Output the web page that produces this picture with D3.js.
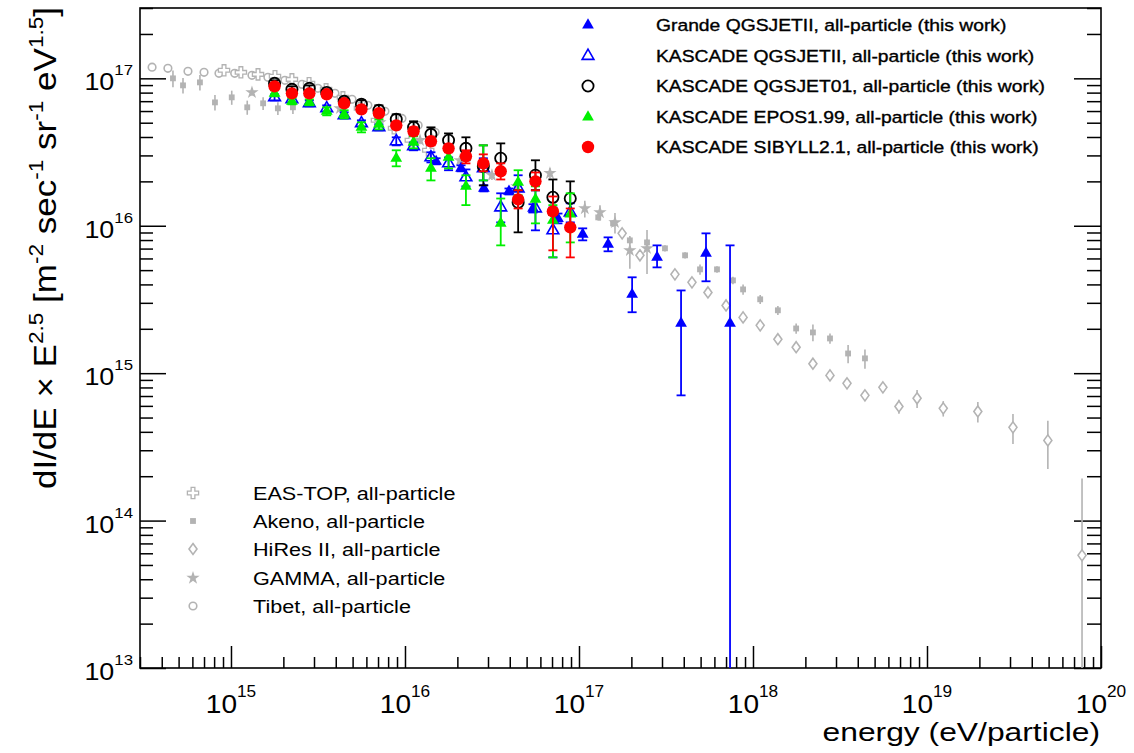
<!DOCTYPE html>
<html><head><meta charset="utf-8">
<script src="https://cdn.jsdelivr.net/npm/d3@7"></script>
<style>body{margin:0;background:#fff}svg{display:block}text{font-family:"Liberation Sans",Arial,sans-serif;white-space:pre}</style>
</head><body>
<svg id="c" width="1134" height="753"></svg>
<script>
// ---------- DATA ----------
const xTickExps = [15, 16, 17, 18, 19, 20];
const yTickExps = [13, 14, 15, 16, 17];

// KASCADE energy bins (eV)
const kascadeE = [1.78e15, 2.24e15, 2.82e15, 3.55e15, 4.47e15, 5.62e15, 7.08e15, 8.91e15, 1.12e16, 1.41e16, 1.78e16, 2.24e16, 2.82e16, 3.55e16, 4.47e16, 5.62e16, 7.08e16, 8.91e16];
// KASCADE SIBYLL2.1
const sibyllF  = [8.82e16, 7.91e16, 7.91e16, 7.79e16, 6.77e16, 6.16e16, 5.79e16, 4.80e16, 4.37e16, 3.74e16, 3.35e16, 2.96e16, 2.65e16, 2.34e16, 1.51e16, 2.00e16, 1.25e16, 9.75e15];
const sibyllLo = [8.42e16, 7.55e16, 7.55e16, 7.43e16, 6.46e16, 5.88e16, 5.52e16, 4.58e16, 4.11e16, 3.51e16, 3.15e16, 2.65e16, 2.34e16, 2.06e16, 1.31e16, 1.74e16, 6.81e15, 6.10e15];
const sibyllHi = [9.25e16, 8.29e16, 8.29e16, 8.16e16, 7.09e16, 6.46e16, 6.07e16, 5.03e16, 4.65e16, 3.98e16, 3.56e16, 3.25e16, 3.05e16, 2.65e16, 1.74e16, 2.30e16, 1.58e16, 1.31e16];
// KASCADE QGSJET01
const qgs01F  = [9.25e16, 8.42e16, 8.55e16, 8.03e16, 6.98e16, 6.66e16, 6.07e16, 5.27e16, 4.65e16, 4.17e16, 3.80e16, 3.35e16, 2.53e16, 2.87e16, 1.44e16, 2.20e16, 1.56e16, 1.53e16];
const qgs01Lo = [8.82e16, 8.03e16, 8.16e16, 7.67e16, 6.66e16, 6.26e16, 5.61e16, 4.87e16, 4.23e16, 3.74e16, 3.35e16, 2.78e16, 1.88e16, 2.38e16, 9.02e15, 1.74e16, 1.18e16, 1.18e16];
const qgs01Hi = [9.69e16, 8.82e16, 8.96e16, 8.42e16, 7.32e16, 7.09e16, 6.56e16, 5.70e16, 5.11e16, 4.65e16, 4.23e16, 3.98e16, 3.51e16, 3.62e16, 1.74e16, 2.78e16, 2.06e16, 2.00e16];
// KASCADE QGSJETII
const qgs2F  = [7.43e16, 7.20e16, 6.77e16, 6.26e16, 5.61e16, 4.95e16, 4.65e16, 3.74e16, 3.46e16, 2.91e16, 2.65e16, 2.13e16, 2.45e16, 1.33e16, 1.79e16, 1.31e16, 9.31e15, 1.23e16];
const qgs2Lo = [7.09e16, 6.87e16, 6.46e16, 5.97e16, 5.35e16, 4.72e16, 4.44e16, 3.51e16, 3.25e16, 2.69e16, 2.38e16, 1.85e16, 2.03e16, 1.054e16, 1.49e16, 9.31e15, 6.10e15, 1.054e16];
const qgs2Hi = [7.79e16, 7.55e16, 7.09e16, 6.56e16, 5.88e16, 5.19e16, 4.87e16, 3.98e16, 3.68e16, 3.15e16, 2.91e16, 2.41e16, 2.87e16, 1.66e16, 2.20e16, 1.74e16, 1.33e16, 1.42e16];
// KASCADE EPOS1.99
const eposF  = [7.91e16, 6.98e16, 6.87e16, 5.97e16, 5.70e16, 4.65e16, 4.87e16, 2.87e16, 3.68e16, 2.45e16, 2.91e16, 1.85e16, 2.65e16, 1.038e16, 1.97e16, 1.51e16, 1.088e16, 1.20e16];
const eposLo = [7.55e16, 6.66e16, 6.56e16, 5.61e16, 5.35e16, 4.30e16, 4.51e16, 2.53e16, 3.35e16, 2.03e16, 2.45e16, 1.38e16, 2.03e16, 7.36e15, 1.61e16, 1.038e16, 6.10e15, 7.71e15];
const eposHi = [8.29e16, 7.32e16, 7.20e16, 6.36e16, 6.07e16, 5.03e16, 5.27e16, 3.25e16, 4.04e16, 2.87e16, 3.46e16, 2.20e16, 3.51e16, 1.53e16, 2.38e16, 1.85e16, 1.38e16, 1.66e16];
// Grande QGSJETII
const grandeE  = [1.51e16, 2.10e16, 2.84e16, 3.96e16, 5.44e16, 7.57e16, 1.05e17, 1.47e17, 2.02e17, 2.81e17, 3.86e17, 5.37e17, 7.38e17];
const grandeF  = [2.73e16, 2.45e16, 1.79e16, 1.71e16, 1.31e16, 1.12e16, 8.74e15, 7.48e15, 3.42e15, 6.10e15, 2.18e15, 6.50e15, 2.18e15];
const grandeLo = [2.61e16, 2.34e16, 1.71e16, 1.63e16, 1.23e16, 1.038e16, 7.96e15, 6.71e15, 2.59e15, 5.22e15, 7.07e14, 4.20e15, 1e12];
const grandeHi = [2.87e16, 2.57e16, 1.88e16, 1.79e16, 1.40e16, 1.21e16, 9.60e15, 8.34e15, 4.47e15, 7.36e15, 3.64e15, 8.88e15, 7.36e15];

// other experiments (relative symmetric errors)
const tibetE   = [3.52e14, 4.34e14, 5.66e14, 7.00e14, 8.53e14, 1.05e15, 1.32e15, 1.63e15, 2.04e15, 2.56e15, 3.16e15, 3.96e15, 4.96e15, 6.12e15, 7.67e15, 9.61e15, 1.19e16, 1.49e16];
const tibetF   = [1.19e17, 1.169e17, 1.116e17, 1.098e17, 1.081e17, 1.081e17, 1.048e17, 1.016e17, 9.69e16, 9.10e16, 8.55e16, 7.91e16, 7.20e16, 6.56e16, 5.97e16, 5.35e16, 4.80e16, 4.30e16];
const tibetErr = [0.02, 0.02, 0.02, 0.02, 0.05, 0.05, 0.05, 0.05, 0.05, 0.05, 0.05, 0.05, 0.05, 0.05, 0.05, 0.05, 0.05, 0.05];

const easTopE   = [9.12e14, 1.14e15, 1.43e15, 1.79e15, 2.24e15, 2.81e15, 3.52e15, 4.40e15, 5.51e15, 6.90e15, 8.65e15, 1.08e16, 1.36e16];
const easTopF   = [1.133e17, 1.098e17, 1.064e17, 1.032e17, 9.84e16, 9.25e16, 8.42e16, 7.43e16, 6.26e16, 5.19e16, 4.58e16, 3.80e16, 3.25e16];
const easTopErr = [0.06, 0.06, 0.06, 0.06, 0.06, 0.06, 0.06, 0.06, 0.06, 0.06, 0.06, 0.06, 0.06];

const akenoE   = [4.64e14, 5.30e14, 6.63e14, 8.09e14, 1.01e15, 1.24e15, 1.53e15, 1.86e15, 2.27e15,
                  1.29e17, 1.57e17, 1.96e17, 2.46e17, 3.12e17, 4.07e17, 4.96e17, 6.21e17, 7.67e17, 8.77e17, 1.10e18, 1.39e18, 1.77e18, 2.21e18, 2.77e18, 3.52e18, 4.40e18];
const akenoF   = [1.00e17, 8.96e16, 9.39e16, 6.87e16, 7.43e16, 6.36e16, 6.77e16, 6.26e16, 6.36e16,
                  1.14e16, 1.038e16, 7.96e15, 7.71e15, 7.03e15, 6.30e15, 5.06e15, 5.06e15, 4.26e15, 3.70e15, 3.17e15, 2.67e15, 2.01e15, 1.89e15, 1.72e15, 1.36e15, 1.26e15];
const akenoErr = [0.13, 0.12, 0.12, 0.12, 0.11, 0.11, 0.10, 0.10, 0.10,
                  0.05, 0.05, 0.05, 0.05, 0.05, 0.05, 0.08, 0.05, 0.06, 0.08, 0.07, 0.07, 0.08, 0.13, 0.08, 0.14, 0.15];

const hiresE   = [1.77e17, 2.24e17, 3.56e17, 4.46e17, 5.51e17, 7.00e17, 8.77e17, 1.10e18, 1.39e18, 1.77e18, 2.21e18, 2.77e18, 3.47e18, 4.40e18, 5.58e18, 6.90e18, 8.77e18, 1.24e19, 1.96e19, 3.12e19, 4.95e19, 7.78e19];
const hiresF   = [8.88e15, 6.30e15, 4.68e15, 4.13e15, 3.53e15, 2.88e15, 2.39e15, 2.11e15, 1.70e15, 1.50e15, 1.16e15, 9.66e14, 8.53e14, 7.07e14, 8.01e14, 5.95e14, 6.75e14, 5.77e14, 5.50e14, 4.29e14, 3.50e14, 5.81e13];
const hiresErr = [0.06, 0.04, 0.04, 0.04, 0.04, 0.04, 0.04, 0.04, 0.04, 0.05, 0.05, 0.05, 0.05, 0.05, 0.06, 0.11, 0.14, 0.12, 0.16, 0.23, 0.36, 2.32];

const gammaE   = [1.32e15, 4.23e15, 7.18e15, 1.22e16, 2.07e16, 3.16e16, 4.40e16, 6.81e16, 1.08e17, 1.32e17, 1.61e17, 1.96e17, 2.46e17];
const gammaF   = [8.03e16, 6.26e16, 5.03e16, 3.80e16, 2.78e16, 2.20e16, 1.85e16, 2.27e16, 1.31e16, 1.23e16, 1.054e16, 6.81e15, 7.03e15];
const gammaErr = [0.05, 0.05, 0.05, 0.06, 0.06, 0.07, 0.08, 0.08, 0.13, 0.12, 0.16, 0.25, 0.33];

const topLegend = ["Grande QGSJETII, all-particle (this work)", "KASCADE QGSJETII, all-particle (this work)", "KASCADE QGSJET01, all-particle (this work)", "KASCADE EPOS1.99, all-particle (this work)", "KASCADE SIBYLL2.1, all-particle (this work)"];
const bottomLegend = ["EAS-TOP, all-particle", "Akeno, all-particle", "HiRes II, all-particle", "GAMMA, all-particle", "Tibet, all-particle"];

// ---------- CHART ----------
const M = {l: 140, r: 1101, t: 8, b: 668};
const x = d3.scaleLog().domain([3e14, 1e20]).range([M.l, M.r]);
const y = d3.scaleLog().domain([1e13, 3e17]).range([M.b, M.t]);
const svg = d3.select("#c");
const GREY = "#b3b3b3";
const GREEN = "#00f000";

svg.append("defs").append("clipPath").attr("id", "clip")
  .append("rect").attr("x", M.l).attr("y", M.t).attr("width", M.r - M.l).attr("height", M.b - M.t);

// ticks
const minorX = [], minorY = [];
for (let e = 14; e < 20; e++) for (let m = 2; m <= 9; m++) { const v = m * Math.pow(10, e); if (v >= 3e14 * 0.999 && v < 1e20) minorX.push(v); }
for (let e = 13; e < 18; e++) for (let m = 2; m <= 9; m++) { const v = m * Math.pow(10, e); if (v <= 3.001e17) minorY.push(v); }
const majX = xTickExps.map(e => Math.pow(10, e));
const majY = yTickExps.map(e => Math.pow(10, e));
function tk(g) { g.select(".domain").remove(); g.selectAll("line").attr("stroke", "#000").attr("stroke-width", 1.5); g.selectAll("text").remove(); }
svg.append("g").attr("transform", `translate(0,${M.b})`).call(d3.axisBottom(x).tickValues(minorX).tickSize(-11).tickFormat("")).call(tk);
svg.append("g").attr("transform", `translate(0,${M.b})`).call(d3.axisBottom(x).tickValues(majX).tickSize(-22).tickFormat("")).call(tk);
svg.append("g").attr("transform", `translate(${M.l},0)`).call(d3.axisLeft(y).tickValues(minorY).tickSize(-13).tickFormat("")).call(tk);
svg.append("g").attr("transform", `translate(${M.l},0)`).call(d3.axisLeft(y).tickValues(majY).tickSize(-26).tickFormat("")).call(tk);
svg.append("g").attr("transform", `translate(${M.r},0)`).call(d3.axisRight(y).tickValues(minorY).tickSize(-14).tickFormat("")).call(tk);
svg.append("g").attr("transform", `translate(${M.r},0)`).call(d3.axisRight(y).tickValues(majY).tickSize(-27).tickFormat("")).call(tk);

// frame
svg.append("rect").attr("x", M.l).attr("y", M.t).attr("width", M.r - M.l).attr("height", M.b - M.t)
  .attr("fill", "none").attr("stroke", "#000").attr("stroke-width", 1.6);

// tick labels
function powLabel(g, exp, size, supSize, raise, anchor) {
  const t = g.append("text").attr("text-anchor", anchor).attr("font-size", size).attr("fill", "#000");
  t.append("tspan").text("10");
  t.append("tspan").attr("dy", -raise).attr("font-size", supSize).text(exp);
  return t;
}
xTickExps.forEach(e => {
  const g = svg.append("g").attr("transform", `translate(${x(Math.pow(10, e))},713) scale(1.08,1)`);
  powLabel(g, e, 26, 16, 16, "middle");
});
yTickExps.forEach(e => {
  const g = svg.append("g").attr("transform", `translate(133,${y(Math.pow(10, e)) + 12}) scale(1.12,1)`);
  powLabel(g, e, 24, 15, 15, "end");
});

// axis titles
svg.append("text").attr("transform", "translate(1100,741) scale(1.2,1)").attr("text-anchor", "end")
  .attr("font-size", 26.5).text("energy (eV/particle)");
{
  const t = svg.append("text").attr("transform", "translate(56,248) rotate(-90) scale(1.13,1)")
    .attr("text-anchor", "middle").attr("font-size", 31);
  const parts = [["dI/dE \u00d7 E", 0], ["2.5", 1], [" [m", 0], ["-2", 1], [" sec", 0], ["-1", 1], [" sr", 0], ["-1", 1], [" eV", 0], ["1.5", 1], ["]", 0]];
  let up = 0;
  parts.forEach(([s, sup]) => {
    const ts = t.append("tspan").text(s);
    if (sup) { ts.attr("font-size", 20).attr("dy", up ? 0 : -13); up = 1; }
    else { ts.attr("dy", up ? 13 : 0); up = 0; }
  });
}

// ---------- marks ----------
const plot = svg.append("g").attr("clip-path", "url(#clip)");
const diamond = "M0,-5.5L4,0L0,5.5L-4,0Z";

function greySeries(E, F, err, drawMarker) {
  const g = plot.append("g");
  E.forEach((e, i) => {
    const lo = Math.max(F[i] * (1 - err[i]), 1e11), hi = F[i] * (1 + err[i]);
    g.append("line").attr("x1", x(e)).attr("x2", x(e)).attr("y1", y(lo)).attr("y2", y(hi))
      .attr("stroke", GREY).attr("stroke-width", 1.6);
  });
  E.forEach((e, i) => drawMarker(g, x(e), y(F[i])));
}
const mkTibet = (g, cx, cy) => g.append("circle").attr("cx", cx).attr("cy", cy).attr("r", 3.8).attr("fill", "#fff").attr("stroke", GREY).attr("stroke-width", 1.6);
const mkEas = (g, cx, cy) => g.append("path").attr("d", d3.symbol(d3.symbolCross, 70)()).attr("transform", `translate(${cx},${cy})`).attr("fill", "#fff").attr("stroke", GREY).attr("stroke-width", 1.3);
const mkAkeno = (g, cx, cy) => g.append("path").attr("d", d3.symbol(d3.symbolSquare, 34)()).attr("transform", `translate(${cx},${cy})`).attr("fill", GREY);
const mkHires = (g, cx, cy) => g.append("path").attr("d", diamond).attr("transform", `translate(${cx},${cy})`).attr("fill", "#fff").attr("stroke", GREY).attr("stroke-width", 1.6);
const mkGamma = (g, cx, cy) => g.append("path").attr("d", d3.symbol(d3.symbolStar, 55)()).attr("transform", `translate(${cx},${cy})`).attr("fill", GREY);

greySeries(tibetE, tibetF, tibetErr, mkTibet);
greySeries(easTopE, easTopF, easTopErr, mkEas);
greySeries(akenoE, akenoF, akenoErr, mkAkeno);
greySeries(hiresE, hiresF, hiresErr, mkHires);
greySeries(gammaE, gammaF, gammaErr, mkGamma);

const tri = d3.symbol(d3.symbolTriangle, 60)();
function colSeries(E, F, lo, hi, color, drawMarker) {
  const g = plot.append("g");
  E.forEach((e, i) => {
    const cx = x(e), y1 = y(lo[i]), y2 = y(hi[i]);
    g.append("line").attr("x1", cx).attr("x2", cx).attr("y1", y1).attr("y2", y2).attr("stroke", color).attr("stroke-width", 1.8);
    [y1, y2].forEach(yy => g.append("line").attr("x1", cx - 4.5).attr("x2", cx + 4.5).attr("y1", yy).attr("y2", yy).attr("stroke", color).attr("stroke-width", 1.8));
  });
  E.forEach((e, i) => drawMarker(g, x(e), y(F[i]), color));
}
const mkTriF = (g, cx, cy, c) => g.append("path").attr("d", tri).attr("transform", `translate(${cx},${cy})`).attr("fill", c);
const mkTriO = (g, cx, cy, c) => g.append("path").attr("d", tri).attr("transform", `translate(${cx},${cy})`).attr("fill", "none").attr("stroke", c).attr("stroke-width", 1.6);
const mkCircO = (g, cx, cy, c) => g.append("circle").attr("cx", cx).attr("cy", cy).attr("r", 5.6).attr("fill", "none").attr("stroke", c).attr("stroke-width", 1.8);
const mkCircF = (g, cx, cy, c) => g.append("circle").attr("cx", cx).attr("cy", cy).attr("r", 6.2).attr("fill", c);

colSeries(grandeE, grandeF, grandeLo, grandeHi, "#0000ff", mkTriF);
colSeries(kascadeE, qgs2F, qgs2Lo, qgs2Hi, "#0000ff", mkTriO);
colSeries(kascadeE, qgs01F, qgs01Lo, qgs01Hi, "#000000", mkCircO);
colSeries(kascadeE, eposF, eposLo, eposHi, GREEN, mkTriF);
colSeries(kascadeE, sibyllF, sibyllLo, sibyllHi, "#ff0000", mkCircF);

// ---------- legends ----------
const topRowY = [25, 56, 86, 117, 147];
const topMk = [[mkTriF, "#0000ff"], [mkTriO, "#0000ff"], [mkCircO, "#000"], [mkTriF, GREEN], [mkCircF, "#ff0000"]];
const lg1 = svg.append("g");
topLegend.forEach((s, i) => {
  topMk[i][0](lg1, 588, topRowY[i], topMk[i][1]);
  lg1.append("text").attr("transform", `translate(656,${topRowY[i] + 6}) scale(1.17,1)`).attr("font-size", 16.5)
    .attr("stroke", "#000").attr("stroke-width", 0.35).text(s);
});
const botRowY = [493, 521, 549, 578, 606];
const botMk = [mkEas, mkAkeno, mkHires, mkGamma, mkTibet];
const lg2 = svg.append("g");
bottomLegend.forEach((s, i) => {
  botMk[i](lg2, 193, botRowY[i]);
  lg2.append("text").attr("transform", `translate(253,${botRowY[i] + 7}) scale(1.17,1)`).attr("font-size", 18.5).text(s);
});
</script>
</body></html>
